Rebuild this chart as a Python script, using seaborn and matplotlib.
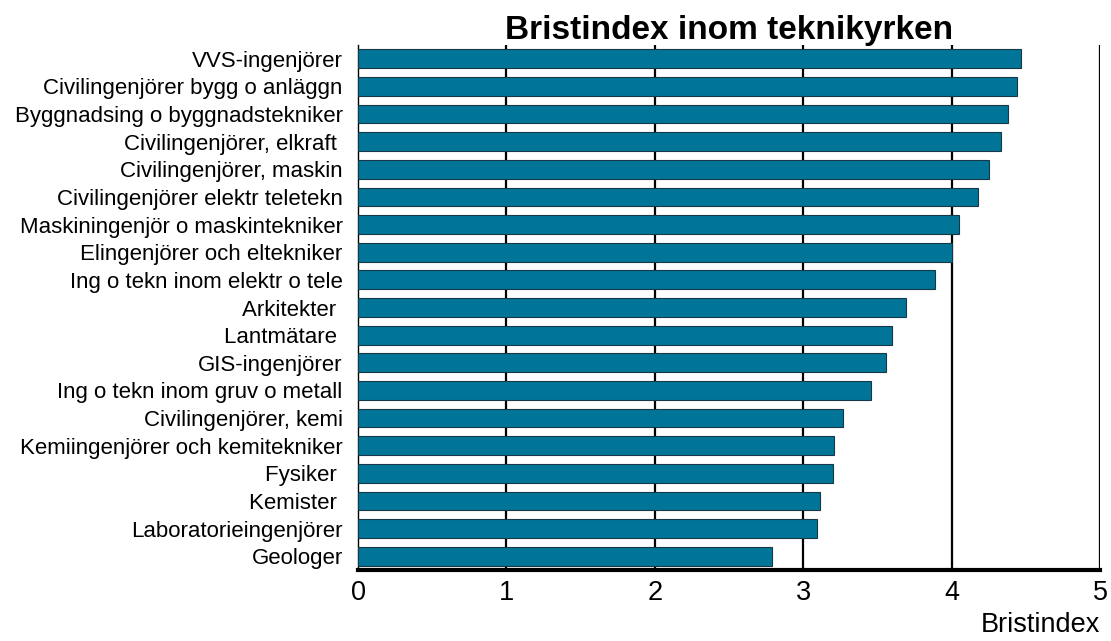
import matplotlib
matplotlib.use("Agg")
import matplotlib.pyplot as plt
import seaborn as sns
import pandas as pd

categories = [
    "VVS-ingenjörer",
    "Civilingenjörer bygg o anläggn",
    "Byggnadsing o byggnadstekniker",
    "Civilingenjörer, elkraft ",
    "Civilingenjörer, maskin",
    "Civilingenjörer elektr teletekn",
    "Maskiningenjör o maskintekniker",
    "Elingenjörer och eltekniker",
    "Ing o tekn inom elektr o tele",
    "Arkitekter ",
    "Lantmätare ",
    "GIS-ingenjörer",
    "Ing o tekn inom gruv o metall",
    "Civilingenjörer, kemi",
    "Kemiingenjörer och kemitekniker",
    "Fysiker ",
    "Kemister ",
    "Laboratorieingenjörer",
    "Geologer",
]
values = [4.47, 4.44, 4.38, 4.33, 4.25, 4.18, 4.05, 4.00, 3.89, 3.69,
          3.60, 3.56, 3.46, 3.27, 3.21, 3.20, 3.11, 3.09, 2.79]
xticks = [0, 1, 2, 3, 4, 5]

df = pd.DataFrame({"yrke": categories, "index": values})

sns.set_theme(style="white")
plt.rcParams["font.family"] = ["Liberation Sans", "DejaVu Sans"]

fig = plt.figure(figsize=(11.11, 6.41), dpi=100)
ax = fig.add_axes([358 / 1111, 1 - 570 / 641, (1100 - 358) / 1111, (570 - 45) / 641])

sns.barplot(data=df, x="index", y="yrke", orient="h", color="#007598",
            saturation=1, width=0.68, edgecolor="#183848", linewidth=0.8,
            ax=ax, zorder=3)

ax.set_xlim(0, 5)
ax.set_ylim(len(categories) - 0.5, -0.5)
ax.set_xticks(xticks)
ax.set_xticklabels([str(t) for t in xticks], fontsize=19.5)
ax.tick_params(axis="y", labelsize=16, length=0, pad=11, colors="black")
ax.tick_params(axis="x", length=0, pad=7, colors="black")
for t in xticks[1:]:
    ax.axvline(t, color="black", linewidth=1.6, zorder=1)

for s in ["top", "right"]:
    ax.spines[s].set_visible(False)
ax.spines["left"].set_color("black")
ax.spines["left"].set_linewidth(1.0)
ax.spines["bottom"].set_color("black")
ax.spines["bottom"].set_linewidth(3)
ax.spines["bottom"].set_zorder(5)

ax.set_ylabel("")
ax.set_xlabel("Bristindex", fontsize=19.5, color="black")
ax.xaxis.set_label_coords(1.0, -0.08)
ax.xaxis.label.set_horizontalalignment("right")

ax.set_title("Bristindex inom teknikyrken", fontsize=24, fontweight="bold",
             color="black", pad=4)

fig.savefig("out.png", dpi=100)
